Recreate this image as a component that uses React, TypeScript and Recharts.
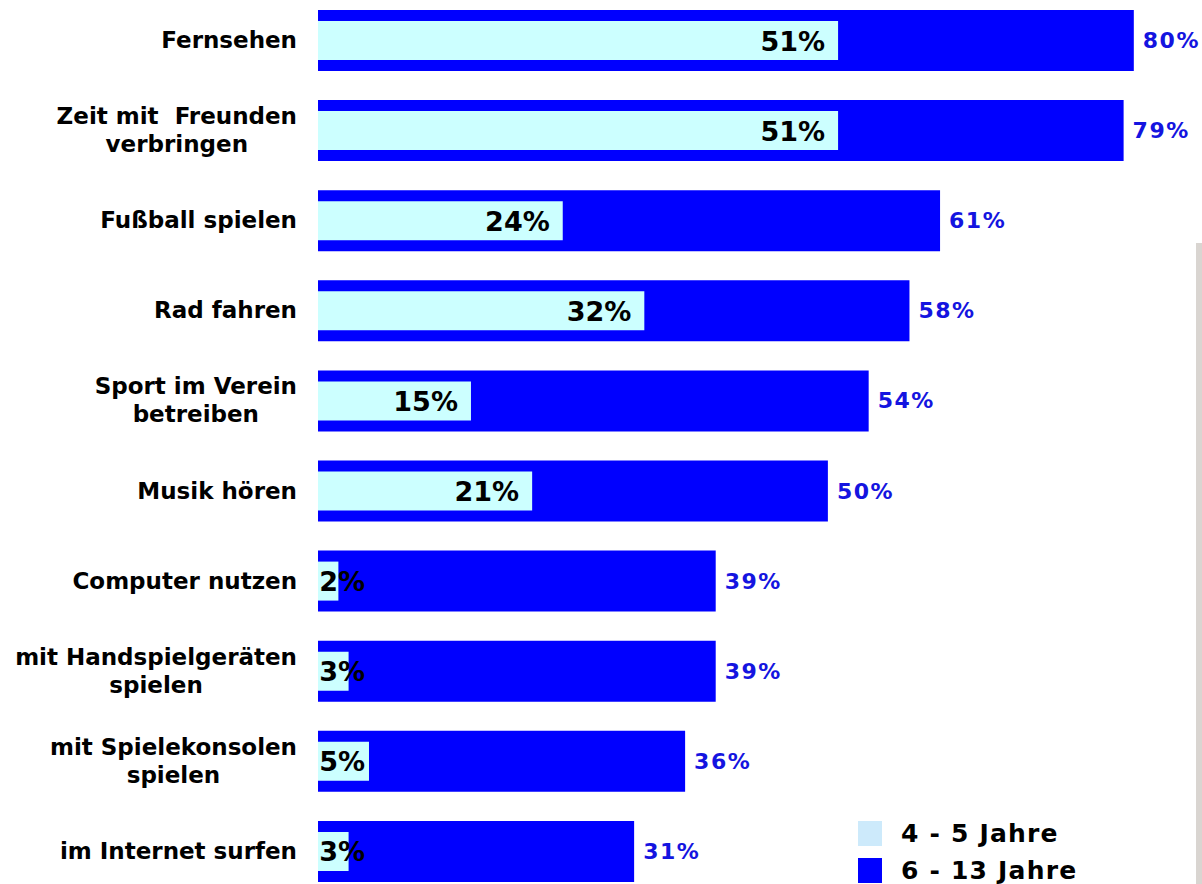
import { BarChart, Bar, XAxis, YAxis, LabelList, Legend } from 'recharts';

const categories = [
  'Fernsehen',
  'Zeit mit  Freunden\nverbringen',
  'Fußball spielen',
  'Rad fahren',
  'Sport im Verein\nbetreiben',
  'Musik hören',
  'Computer nutzen',
  'mit Handspielgeräten\nspielen',
  'mit Spielekonsolen\nspielen',
  'im Internet surfen'
];
const age4to5 = [51, 51, 24, 32, 15, 21, 2, 3, 5, 3];
const age6to13 = [80, 79, 61, 58, 54, 50, 39, 39, 36, 31];
const seriesNames = ['4 - 5 Jahre', '6 - 13 Jahre'];

const FONT = '"DejaVu Sans", Verdana, sans-serif';
const LIGHT = '#ccffff';
const LEGEND_LIGHT = '#cdeafb';
const DARK = '#0000ff';
const LABEL_RIGHT = 297;

const data = categories.map((cat, i) => ({ cat, younger: age4to5[i], older: age6to13[i] }));

let ctx: CanvasRenderingContext2D | null = null;
function measure(text: string, font: string) {
  if (!ctx) ctx = document.createElement('canvas').getContext('2d');
  if (!ctx) return text.length * 12;
  ctx.font = font;
  return ctx.measureText(text).width;
}

function CategoryTick({ y, payload }: any) {
  const lines = String(payload.value).split('\n');
  const maxW = Math.max(...lines.map((l) => measure(l, `bold 23px ${FONT}`)));
  const cx = LABEL_RIGHT - maxW / 2;
  const lh = 28;
  const first = y - ((lines.length - 1) * lh) / 2 + 8;
  return (
    <text
      textAnchor="middle"
      fontFamily={FONT}
      fontWeight="bold"
      fontSize={23}
      fill="#000"
      style={{ whiteSpace: 'pre' }}
    >
      {lines.map((l, i) => (
        <tspan key={i} x={cx} y={first + i * lh}>
          {l}
        </tspan>
      ))}
    </text>
  );
}

function OlderLabel({ x, y, width, height, value }: any) {
  return (
    <text
      x={x + width + 9}
      y={y + height / 2 + 7.5}
      textAnchor="start"
      fontFamily={FONT}
      fontWeight="bold"
      fontSize={22}
      letterSpacing={1.5}
      fill="#1414e0"
    >
      {value}%
    </text>
  );
}

function YoungerLabel({ x, y, width, height, value }: any) {
  const end = Math.max(x + width - 13, x + 47);
  return (
    <text
      x={end}
      y={y + height / 2 + 10}
      textAnchor="end"
      fontFamily={FONT}
      fontWeight="bold"
      fontSize={27}
      fill="#000"
    >
      {value}%
    </text>
  );
}

function LegendBox() {
  const items = [
    { name: seriesNames[0], color: LEGEND_LIGHT },
    { name: seriesNames[1], color: DARK }
  ];
  return (
    <div style={{ fontFamily: FONT, fontWeight: 'bold', fontSize: 25, color: '#000', lineHeight: '25px' }}>
      {items.map((it) => (
        <div key={it.name} style={{ display: 'flex', alignItems: 'center', height: 37 }}>
          <span style={{ width: 24, height: 25, background: it.color, marginRight: 19, display: 'inline-block' }} />
          <span style={{ letterSpacing: 1.2, whiteSpace: 'pre' }}>{it.name}</span>
        </div>
      ))}
    </div>
  );
}

export default function App() {
  return (
    <div
      style={{
        position: 'absolute',
        left: 0,
        top: 0,
        width: 1202,
        height: 884,
        overflow: 'hidden',
        background: '#fff'
      }}
    >
      <div style={{ position: 'absolute', left: 0, top: -5 }}>
        <BarChart
          layout="vertical"
          width={1202}
          height={901}
          data={data}
          margin={{ top: 0, right: 7, bottom: 0, left: 0 }}
        >
          <XAxis type="number" domain={[0, 86]} hide />
          <YAxis
            yAxisId="main"
            type="category"
            dataKey="cat"
            width={318}
            axisLine={false}
            tickLine={false}
            tick={<CategoryTick />}
            interval={0}
          />
          <YAxis yAxisId="overlay" type="category" dataKey="cat" hide />
          <Bar
            yAxisId="main"
            dataKey="older"
            name={seriesNames[1]}
            fill={DARK}
            barSize={61}
            isAnimationActive={false}
          >
            <LabelList dataKey="older" content={<OlderLabel />} />
          </Bar>
          <Bar
            yAxisId="overlay"
            dataKey="younger"
            name={seriesNames[0]}
            fill={LIGHT}
            barSize={39}
            isAnimationActive={false}
          >
            <LabelList dataKey="younger" content={<YoungerLabel />} />
          </Bar>
          <Legend
            layout="vertical"
            align="center"
            verticalAlign="middle"
            content={<LegendBox />}
            wrapperStyle={{ left: 858, top: 820, width: 300 }}
          />
        </BarChart>
      </div>
      <div
        style={{
          position: 'absolute',
          left: 1196,
          top: 243,
          width: 6,
          height: 641,
          background: '#d9d5d1'
        }}
      />
    </div>
  );
}
